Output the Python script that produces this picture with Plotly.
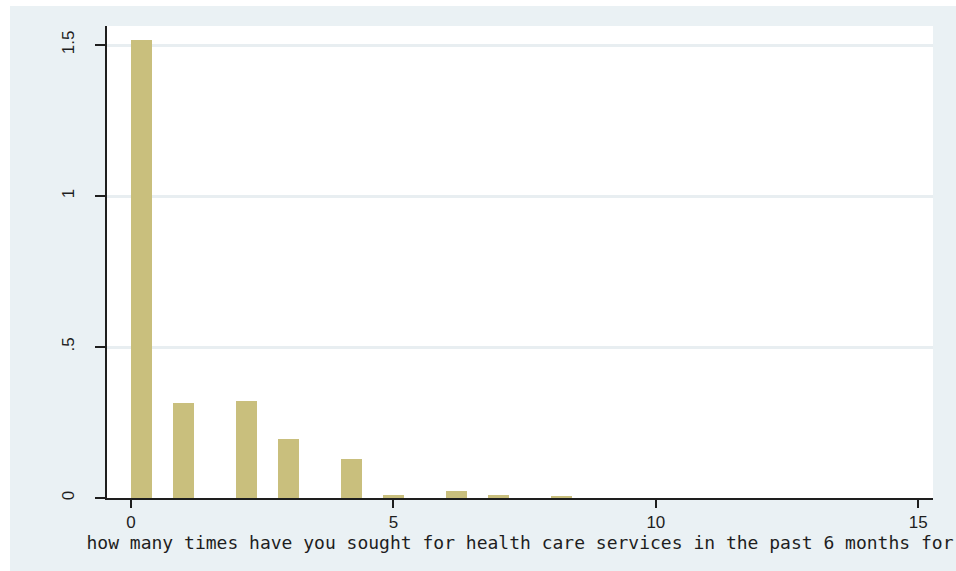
import plotly.graph_objects as go

# Data (density, bin width 0.4)
visit_counts = [0, 1, 2, 3, 4, 5, 6, 7, 8]
bin_starts = [0.0, 0.8, 2.0, 2.8, 4.0, 4.8, 6.0, 6.8, 8.0]
densities = [1.517, 0.315, 0.321, 0.195, 0.129, 0.010, 0.023, 0.010, 0.007]
bin_width = 0.4

x_tickvals = [0, 5, 10, 15]
x_ticktext = ["0", "5", "10", "15"]
y_tickvals = [0, 0.5, 1, 1.5]
y_ticktext = ["0", ".5", "1", "1.5"]

x_title = "how many times have you sought for health care services in the past 6 months for"

BAR = "#c9bf7d"
OUTER = "#eaf1f4"
GRID = "#e8eef1"
INK = "#1e1e1e"

fig = go.Figure()
fig.add_trace(go.Bar(
    x=bin_starts,
    y=densities,
    width=[bin_width] * len(bin_starts),
    offset=0,
    marker=dict(color=BAR, line=dict(width=0)),
    customdata=visit_counts,
    hovertemplate="value %{customdata}<br>density %{y}<extra></extra>",
))

W, H = 956, 571
ml, mr, mt, mb = 107, 23, 26, 73
pw, ph = W - ml - mr, H - mt - mb

# outer light panel (leaving a thin white strip on top and left), and white plot region
fig.add_shape(type="rect", xref="paper", yref="paper",
              x0=(10 - ml) / pw, x1=(W - ml) / pw,
              y0=-(mb) / ph, y1=(H - mb - 6) / ph,
              fillcolor=OUTER, line=dict(width=0), layer="below")
fig.add_shape(type="rect", xref="paper", yref="paper",
              x0=0, x1=1, y0=0, y1=1,
              fillcolor="white", line=dict(width=0), layer="below")

fig.update_layout(
    width=W, height=H,
    margin=dict(l=ml, r=mr, t=mt, b=mb, pad=0),
    paper_bgcolor="white",
    plot_bgcolor="white",
    showlegend=False,
    bargap=0,
    font=dict(family="Liberation Sans, Arial, sans-serif", color=INK, size=17),
    xaxis=dict(
        range=[-0.457, 15.28],
        tickmode="array", tickvals=x_tickvals, ticktext=x_ticktext,
        ticks="outside", ticklen=8, tickwidth=2, tickcolor=INK,
        showline=True, linecolor=INK, linewidth=2,
        showgrid=False, zeroline=False,
        tickfont=dict(size=17, color=INK),
        title=dict(text=x_title, standoff=0,
                   font=dict(family="DejaVu Sans Mono, monospace", size=18, color=INK)),
    ),
    yaxis=dict(
        range=[0, 1.563],
        tickmode="array", tickvals=y_tickvals, ticktext=y_ticktext,
        tickangle=-90,
        ticks="outside", ticklen=10, tickwidth=2, tickcolor=INK,
        showline=True, linecolor=INK, linewidth=2,
        showgrid=True, gridcolor=GRID, gridwidth=2.5,
        zeroline=False,
        tickfont=dict(size=17, color=INK),
        ticklabelstandoff=14,
    ),
)

fig.write_html("out.html")
